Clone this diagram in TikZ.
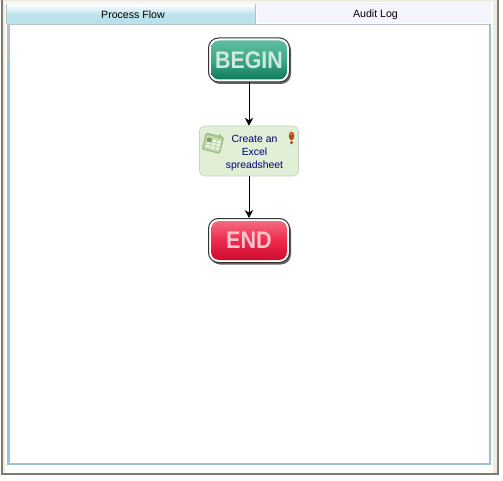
\documentclass[tikz,border=0pt]{standalone}
\usepackage{fontspec}
\setmainfont{Liberation Sans}
\usetikzlibrary{arrows.meta}
\definecolor{tabblue}{HTML}{B9E2EB}
\definecolor{framegray}{HTML}{B4C2C6}
\definecolor{frameblue}{HTML}{9CC3D3}
\definecolor{bardark}{HTML}{7F7B6E}
\definecolor{barlight}{HTML}{EFECE0}
\definecolor{taskfill}{HTML}{E0EFD6}
\definecolor{taskedge}{HTML}{C6D6BE}
\definecolor{tasktext}{HTML}{000080}
\definecolor{greenmid}{HTML}{3EA888}
\definecolor{greentop}{HTML}{5FBBA0}
\definecolor{greenlow}{HTML}{0F7A5C}
\definecolor{redmid}{HTML}{F02A4C}
\definecolor{redtop}{HTML}{F26A80}
\definecolor{redlow}{HTML}{CC0C30}
\definecolor{iconlight}{HTML}{C3DAAE}
\definecolor{icondark}{HTML}{9FC088}
\definecolor{warn}{HTML}{B4491C}
\tikzset{
  x=1pt,y=-1pt,
  btnbase/.style={draw=black!80,fill=white,line width=1pt,rounded corners=10pt,minimum width=81pt,minimum height=44pt,inner sep=0pt},
  btnshadow/.style={fill=black!60,rounded corners=10pt,minimum width=81pt,minimum height=44pt,inner sep=0pt},
  btnface/.style={rounded corners=8pt,minimum width=76pt,minimum height=39pt,inner sep=0pt,font=\bfseries\fontsize{24}{24}\selectfont},
  beginface/.style={btnface,top color=greentop,bottom color=greenlow,middle color=greenmid,text=white!75!greenmid},
  endface/.style={btnface,top color=redtop,bottom color=redlow,middle color=redmid,text=white!72!redmid},
  taskbox/.style={draw=taskedge,fill=taskfill,line width=.6pt,rounded corners=5pt,minimum width=99pt,minimum height=50pt,inner sep=0pt},
  tasklabel/.style={text=tasktext,align=center,font=\fontsize{10.4}{12.6}\selectfont,inner sep=0pt},
  flow/.style={draw=black,line width=1pt,-{Stealth[length=8pt,width=8.5pt]}},
  tablabel/.style={text=black,font=\fontsize{10.6}{12}\selectfont,inner sep=0pt},
}
\begin{document}
\begin{tikzpicture}
\useasboundingbox (0,0) rectangle (503,481);
\fill[white] (0,0) rectangle (503,481);
% window edges
\fill[barlight] (0,0) rectangle (498,2.5);
\fill[barlight] (3,0) rectangle (5,473);
\fill[barlight] (492.5,0) rectangle (497,473);
\fill[bardark] (1,0) rectangle (2.8,474.5);
\fill[bardark] (497,0) rectangle (498.8,474.5);
\fill[bardark] (1,472.8) rectangle (498.8,474.8);
% tabs
\path[top color=white,bottom color=tabblue] (6,4) rectangle (255,15);
\fill[tabblue] (6,15) rectangle (255,24);
\fill[white!96!blue] (257,4) rectangle (491,23);
\draw[barlight,line width=1pt] (6,4) -- (491,4);
\draw[framegray,line width=1.5pt] (255.7,4) -- (255.7,24.5) -- (491,24.5);
\draw[framegray,line width=1pt] (6.5,4) -- (6.5,24);
% main frame
\draw[framegray,line width=1pt] (6.5,24.5) -- (255,24.5);
\draw[frameblue,line width=2.5pt] (8.5,25) -- (8.5,464) -- (490,464) -- (490,25);
\draw[framegray,line width=1.5pt] (8,24.5) -- (8,60);
% tab labels
\node[tablabel] (tabA) at (133,15) {Process Flow};
\node[tablabel] (tabB) at (375.5,15) {Audit Log};
% begin button
\node[btnshadow] (beginS) at (250.5,62) {};
\node[btnbase] (begin) at (249,60) {};
\node[beginface] (beginF) at (249,60) {\scalebox{.89}[1]{BEGIN}};
% task
\node[taskbox] (task) at (249,151) {};
\node[tasklabel] (tasktxt) at (254.5,153) {Create an\\Excel\\spreadsheet};
% end button
\node[btnshadow] (finishS) at (250.5,242.5) {};
\node[btnbase] (finish) at (249,240.5) {};
\node[endface] (finishF) at (249,240.5) {\scalebox{.9}[1]{END}};
% spreadsheet icon
\begin{scope}[rotate around={-14:(213,143)}]
\fill[rounded corners=1.5pt,fill=icondark] (203.5,134.5) rectangle (222.5,152);
\fill[rounded corners=1pt,fill=iconlight] (205,136.5) rectangle (221,150.5);
\foreach \yy in {139.5,143,146.5}{
  \foreach \xx in {207,212,217}{\fill[white!55!taskfill] (\xx,\yy) rectangle (\xx+3.5,\yy+2);}
}
\fill[icondark!80!black] (206.5,139) rectangle (211,143);
\fill[icondark] (217,133) rectangle (219,137);
\end{scope}
% warning icon
\fill[warn] (291.5,136) ellipse (2.7pt and 4.4pt);
\fill[warn] (291.5,142.6) circle (1.7pt);
\fill[orange!70] (291,134.2) circle (1pt);
% connectors
\draw[flow] (begin) -- (task);
\draw[flow] (task) -- (finish);
\end{tikzpicture}
\end{document}
